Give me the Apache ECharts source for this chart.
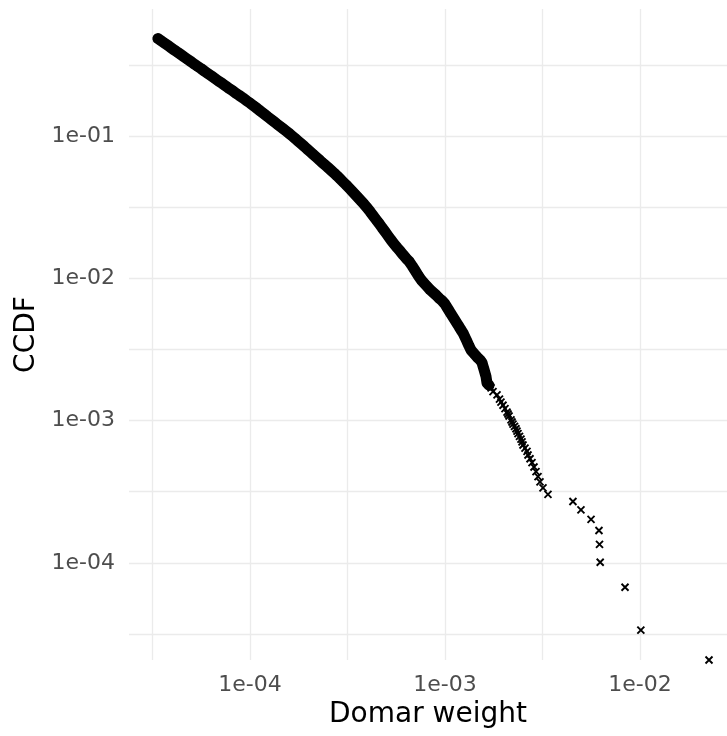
<!DOCTYPE html>
<html>
<head>
<meta charset="utf-8">
<script src="https://cdn.jsdelivr.net/npm/echarts@6/dist/echarts.min.js"></script>
<style>
  html, body { margin: 0; padding: 0; background: #fff; }
  #chart { width: 727px; height: 736px; }
</style>
</head>
<body>
<div id="chart"></div>
<script>
// CCDF of Domar weights
const domarWeight = [
  3.37e-5, 3.5e-5, 3.65e-5, 3.8e-5, 3.95e-5, 4.1e-5, 4.25e-5, 4.4e-5, 4.6e-5, 4.8e-5,
  5.0e-5, 5.2e-5, 5.4e-5, 5.6e-5, 5.85e-5, 6.1e-5, 6.35e-5, 6.6e-5, 6.9e-5, 7.2e-5,
  7.5e-5, 7.8e-5, 8.1e-5, 8.45e-5, 8.8e-5, 9.2e-5, 9.6e-5, 1.0e-4,
  1.036e-4, 1.074e-4, 1.112e-4, 1.153e-4, 1.194e-4, 1.237e-4, 1.282e-4, 1.328e-4, 1.376e-4, 1.426e-4,
  1.477e-4, 1.531e-4, 1.586e-4, 1.643e-4, 1.703e-4, 1.764e-4, 1.828e-4, 1.894e-4, 1.962e-4, 2.033e-4,
  2.107e-4, 2.183e-4, 2.261e-4, 2.343e-4, 2.428e-4, 2.515e-4, 2.606e-4, 2.700e-4, 2.798e-4, 2.899e-4,
  3.004e-4, 3.112e-4, 3.224e-4, 3.341e-4, 3.462e-4, 3.587e-4, 3.716e-4, 3.850e-4, 3.989e-4, 4.133e-4,
  4.283e-4, 4.437e-4, 4.598e-4, 4.764e-4, 4.936e-4, 5.114e-4, 5.299e-4, 5.490e-4, 5.688e-4, 5.894e-4,
  6.107e-4, 6.327e-4, 6.556e-4, 6.792e-4, 7.038e-4, 7.292e-4, 7.555e-4, 7.828e-4, 8.111e-4, 8.404e-4,
  8.707e-4, 9.021e-4, 9.347e-4, 9.685e-4, 1.000e-3, 1.024e-3, 1.048e-3, 1.073e-3, 1.099e-3, 1.125e-3,
  1.152e-3, 1.180e-3, 1.208e-3, 1.237e-3, 1.267e-3, 1.297e-3, 1.328e-3, 1.360e-3, 1.408e-3, 1.459e-3,
  1.512e-3, 1.548e-3, 1.566e-3, 1.585e-3, 1.604e-3, 1.623e-3, 1.633e-3, 1.642e-3, 1.682e-3, 1.722e-3,
  1.763e-3,
  1.848e-3, 1.903e-3, 1.937e-3, 1.984e-3, 2.031e-3, 2.080e-3, 2.104e-3, 2.130e-3, 2.180e-3, 2.206e-3,
  2.232e-3, 2.273e-3, 2.312e-3, 2.340e-3, 2.368e-3, 2.410e-3, 2.453e-3, 2.483e-3, 2.512e-3, 2.572e-3,
  2.634e-3, 2.665e-3, 2.729e-3, 2.794e-3, 2.860e-3, 2.929e-3, 2.999e-3, 3.070e-3, 3.181e-3, 3.374e-3,
  4.53e-3, 4.98e-3, 5.61e-3, 6.16e-3, 6.20e-3, 6.25e-3, 8.38e-3, 1.01e-2, 2.259e-2
];
const ccdf = [
  0.484, 0.467, 0.449, 0.432, 0.416, 0.401, 0.388, 0.375, 0.359, 0.345,
  0.332, 0.319, 0.308, 0.298, 0.285, 0.274, 0.264, 0.254, 0.243, 0.234,
  0.225, 0.216, 0.209, 0.200, 0.193, 0.185, 0.177, 0.1705,
  0.1644, 0.1583, 0.1523, 0.1467, 0.1414, 0.1360, 0.1310, 0.1262, 0.1214, 0.1170,
  0.1127, 0.1084, 0.1043, 0.1002, 0.0962, 0.0922, 0.0883, 0.0847, 0.0810, 0.0777,
  0.0744, 0.0712, 0.0682, 0.0652, 0.0626, 0.0599, 0.0573, 0.0549, 0.0524, 0.0499,
  0.0475, 0.0453, 0.0431, 0.0409, 0.0388, 0.0368, 0.0349, 0.0331, 0.0313, 0.0294,
  0.0275, 0.0258, 0.0242, 0.0226, 0.0212, 0.0198, 0.0185, 0.0174, 0.0164, 0.0155,
  0.0146, 0.0138, 0.0131, 0.0122, 0.0113, 0.01045, 0.00973, 0.00922, 0.00874, 0.00828,
  0.00793, 0.00760, 0.00723, 0.00693, 0.00660, 0.00625, 0.00594, 0.00563, 0.00535, 0.00508,
  0.00482, 0.00458, 0.00434, 0.00413, 0.00385, 0.00360, 0.00335, 0.00313, 0.00296, 0.00280,
  0.00267, 0.00256, 0.00242, 0.00229, 0.00216, 0.00204, 0.00193, 0.00184, 0.00177, 0.00170,
  0.00160,
  1.517e-3, 1.415e-3, 1.348e-3, 1.281e-3, 1.213e-3, 1.146e-3, 1.112e-3, 1.078e-3, 1.011e-3, 9.77e-4,
  9.44e-4, 9.10e-4, 8.76e-4, 8.43e-4, 8.09e-4, 7.75e-4, 7.41e-4, 7.08e-4, 6.74e-4, 6.40e-4,
  6.07e-4, 5.73e-4, 5.39e-4, 5.06e-4, 4.72e-4, 4.38e-4, 4.04e-4, 3.71e-4, 3.37e-4, 3.03e-4,
  2.70e-4, 2.36e-4, 2.02e-4, 1.69e-4, 1.35e-4, 1.01e-4, 6.74e-5, 3.37e-5, 0
];

const xTicks = [1e-4, 1e-3, 1e-2];
const xTickLabels = ['1e-04', '1e-03', '1e-02'];
const yTicks = [1e-1, 1e-2, 1e-3, 1e-4];
const yTickLabels = ['1e-01', '1e-02', '1e-03', '1e-04'];

// panel extent in log10 units (ggplot expansion)
const xRange = [-4.6205, -1.5538];
const yRange = [-4.6824, -0.1075];
// above this CCDF the points overplot into one solid band
const denseAbove = 0.00177;

const points = domarWeight.map((w, i) => [
  Math.log10(w),
  ccdf[i] > 0 ? Math.log10(ccdf[i]) : yRange[0]   // zero CCDF sits on the panel edge, like -Inf in ggplot
]);
const densePoints = points.filter((p, i) => ccdf[i] >= denseAbove);

function tickFormatter(ticks, labels) {
  return (v) => {
    const i = ticks.findIndex((t) => Math.abs(Math.log10(t) - v) < 1e-6);
    return i < 0 ? '' : labels[i];
  };
}

const gridLine = { show: true, showMinLine: false, showMaxLine: false, lineStyle: { color: '#EBEBEB', width: 1.3 } };
const tickText = { color: '#4D4D4D', fontSize: 22, fontFamily: 'DejaVu Sans', margin: 14, showMinLabel: false, showMaxLabel: false };
const titleText = { color: '#000', fontSize: 28, fontFamily: 'DejaVu Sans' };

const chart = echarts.init(document.getElementById('chart'), null, { renderer: 'canvas' });
chart.setOption({
  animation: false,
  backgroundColor: '#fff',
  grid: { left: 129, right: 0, top: 9, bottom: 76, containLabel: false },
  xAxis: {
    type: 'value',
    min: xRange[0], max: xRange[1],
    splitNumber: 6, minInterval: 0.5, maxInterval: 0.5,
    name: 'Domar weight', nameLocation: 'middle', nameGap: 40, nameTextStyle: titleText,
    axisLine: { show: false }, axisTick: { show: false },
    axisLabel: { ...tickText, formatter: tickFormatter(xTicks, xTickLabels) },
    splitLine: gridLine
  },
  yAxis: {
    type: 'value',
    min: yRange[0], max: yRange[1],
    splitNumber: 9, minInterval: 0.5, maxInterval: 0.5,
    name: 'CCDF', nameLocation: 'middle', nameGap: 84, nameRotate: 90, nameTextStyle: titleText,
    axisLine: { show: false }, axisTick: { show: false },
    axisLabel: { ...tickText, formatter: tickFormatter(yTicks, yTickLabels) },
    splitLine: gridLine
  },
  series: [{
    // overplotted region of the scatter
    type: 'line',
    data: densePoints,
    showSymbol: false,
    silent: true,
    lineStyle: { color: '#000', width: 11, cap: 'round', join: 'round' },
    z: 2
  }, {
    type: 'scatter',
    data: points,
    clip: false,
    symbol: 'path://M0,0L10,10M10,0L0,10',
    symbolSize: 7,
    itemStyle: { color: 'rgba(0,0,0,0)', borderColor: '#000', borderWidth: 1.9, opacity: 1 },
    emphasis: { disabled: true },
    z: 3
  }]
});
</script>
</body>
</html>
